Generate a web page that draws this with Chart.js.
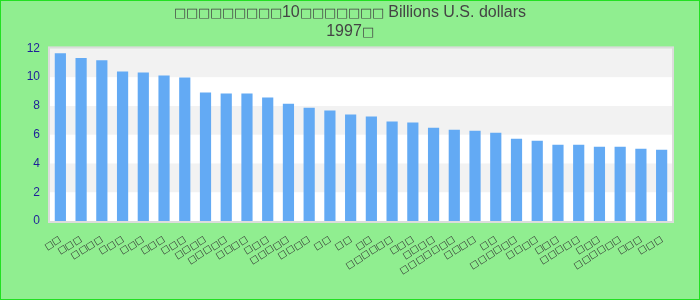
<!DOCTYPE html>
<html>
<head>
<meta charset="utf-8">
<script src="https://cdn.jsdelivr.net/npm/chart.js@4"></script>
<style>
  /* the missing-glyph boxes are wider than Arial's square, take them from DejaVu */
  @font-face { font-family: 'BoxGlyph'; src: local('DejaVu Sans'); unicode-range: U+25A1; size-adjust: 82%; }
  html, body { margin: 0; padding: 0; background: #90ee90; }
  #wrap { width: 700px; height: 300px; box-sizing: border-box; border: 1px solid #22e022; }
</style>
</head>
<body>
<div id="wrap"><canvas id="chart" width="698" height="298"></canvas></div>
<script>
// labels in the source render as empty glyph boxes, kept as such
const categories = [
  '□□', '□□□', '□□□□', '□□□', '□□□', '□□□', '□□□', '□□□□', '□□□□□', '□□□□',
  '□□□', '□□□□□', '□□□□', '□□', '□□', '□□', '□□□□□□', '□□□', '□□□□', '□□□□□□□',
  '□□□□', '□□', '□□□□□□', '□□□□', '□□□', '□□□□□', '□□□', '□□□□□□', '□□□', '□□□'
];
const values = [
  11.67, 11.33, 11.17, 10.40, 10.33, 10.12, 9.98, 8.93, 8.86, 8.86,
  8.58, 8.16, 7.88, 7.68, 7.40, 7.26, 6.91, 6.84, 6.49, 6.35,
  6.28, 6.14, 5.72, 5.58, 5.30, 5.30, 5.16, 5.16, 5.02, 4.95
];
const yTicks = [0, 2, 4, 6, 8, 10, 12];
const titleLines = ['□□□□□□□□□10□□□□□□□ Billions U.S. dollars', '1997□'];

// page background, plot background with alternating bands, plot border
const bandPlugin = {
  id: 'bands',
  afterLayout(chart) {
    // centre the title on the whole canvas, not on the padded area
    chart.titleBlock.left = 0;
    chart.titleBlock.right = chart.width;
  },
  beforeDraw(chart) {
    const { ctx, chartArea: a, scales: { y } } = chart;
    ctx.save();
    ctx.fillStyle = '#90ee90';
    ctx.fillRect(0, 0, chart.width, chart.height);
    ctx.fillStyle = '#ffffff';
    ctx.fillRect(a.left, a.top, a.right - a.left, a.bottom - a.top);
    ctx.fillStyle = '#f2f2f2';
    for (let i = 1; i < yTicks.length - 1; i += 2) {
      const top = y.getPixelForValue(yTicks[i + 1]);
      const bot = y.getPixelForValue(yTicks[i]);
      ctx.fillRect(a.left, top, a.right - a.left, bot - top);
    }
    ctx.strokeStyle = '#dcdcdc';
    ctx.lineWidth = 2;
    ctx.strokeRect(a.left - 1, a.top - 1, a.right - a.left + 2, a.bottom - a.top + 2);
    ctx.restore();
  }
};

Chart.defaults.font.family = 'BoxGlyph, "Liberation Sans", Arial, sans-serif';

function draw() {
  const ctx = document.getElementById('chart').getContext('2d');
  new Chart(ctx, {
    type: 'bar',
    data: {
      labels: categories,
      datasets: [{
        data: values,
        backgroundColor: '#63aaf4',
        barPercentage: 0.54,
        categoryPercentage: 1
      }]
    },
    options: {
      responsive: false,
      animation: false,
      layout: { padding: { left: 0, right: 27, top: 0, bottom: 0 } },
      plugins: {
        legend: { display: false },
        tooltip: { enabled: false },
        title: {
          display: true,
          text: titleLines,
          color: '#444444',
          font: { size: 16, weight: 'normal' },
          padding: { top: 2, bottom: 7 }
        }
      },
      scales: {
        x: {
          grid: { display: false },
          border: { display: false },
          ticks: {
            color: '#333333',
            font: { size: 11 },
            minRotation: 32,
            maxRotation: 32,
            autoSkip: false
          },
          afterFit(scale) { scale.height = 78; }
        },
        y: {
          min: 0,
          max: 12,
          grid: { display: false },
          border: { display: false },
          afterBuildTicks(scale) { scale.ticks = yTicks.map(v => ({ value: v })); },
          ticks: { color: '#1f1f99', font: { size: 12 }, padding: 2 },
          afterFit(scale) { scale.width = 49; }
        }
      }
    },
    plugins: [bandPlugin]
  });
}

Promise.all([
  document.fonts.load('16px BoxGlyph', '□'),
  document.fonts.load('11px BoxGlyph', '□')
]).then(draw, draw);
</script>
</body>
</html>
